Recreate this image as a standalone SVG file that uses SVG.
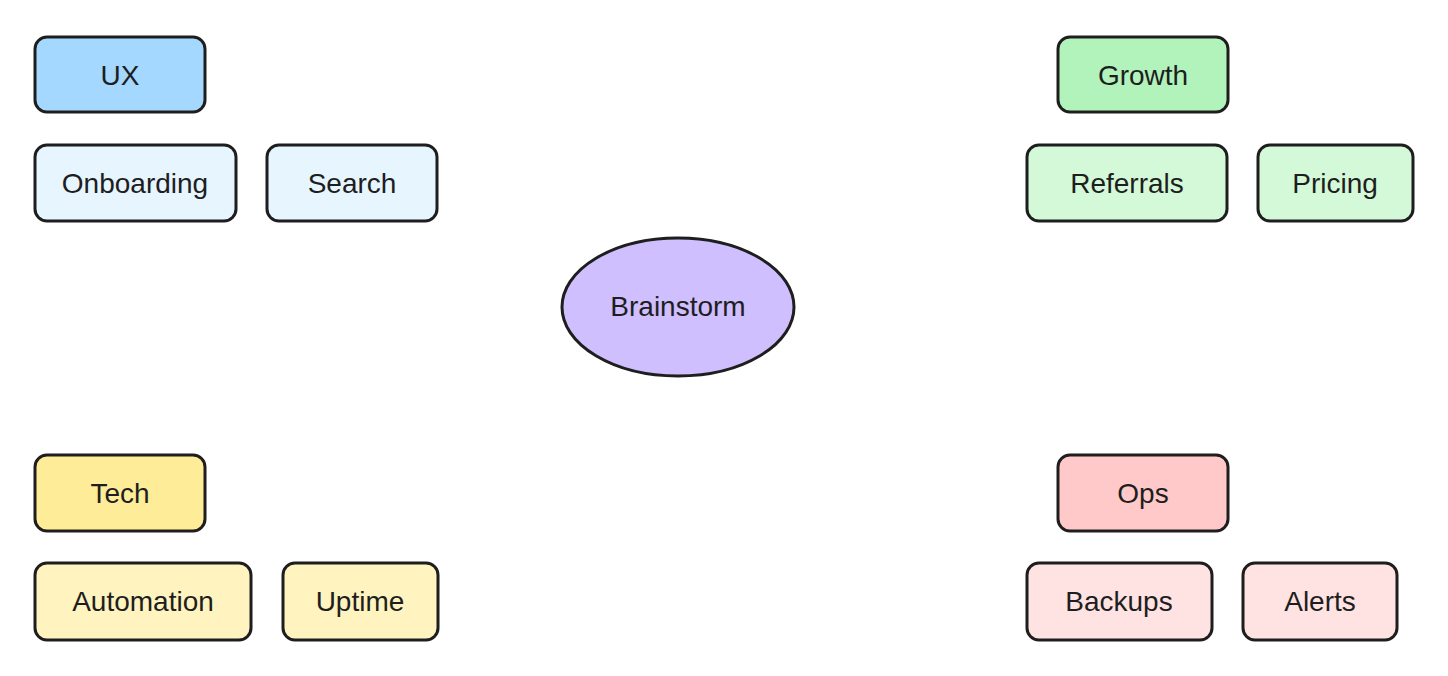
<svg xmlns="http://www.w3.org/2000/svg" width="1448" height="676" viewBox="0 0 1448 676">
<style>
.n{stroke:#1e1e1e;stroke-width:3;stroke-linejoin:round}
.t{font-family:"Liberation Sans",Arial,sans-serif;font-size:28px;fill:#1e1e1e;text-anchor:middle;dominant-baseline:central}
.ux{fill:#a5d8ff}.uxl{fill:#e7f5ff}
.gr{fill:#b2f2bb}.grl{fill:#d3f9d8}
.te{fill:#ffec99}.tel{fill:#fff3bf}
.op{fill:#ffc9c9}.opl{fill:#ffe3e3}
.br{fill:#d0bfff}
</style>
<rect width="1448" height="676" fill="#ffffff"/>
<g id="connectors"></g>
<g id="brainstorm"><ellipse class="n br" cx="678" cy="307" rx="116" ry="69"/><text class="t" x="678" y="306">Brainstorm</text></g>
<g id="ux"><rect class="n ux" x="35" y="37" width="170" height="75" rx="12"/><text class="t" x="120" y="75">UX</text></g>
<g id="onboarding"><rect class="n uxl" x="35" y="145" width="201" height="76" rx="12"/><text class="t" x="135" y="183">Onboarding</text></g>
<g id="search"><rect class="n uxl" x="267" y="145" width="170" height="76" rx="12"/><text class="t" x="352" y="183">Search</text></g>
<g id="growth"><rect class="n gr" x="1058" y="37" width="170" height="75" rx="12"/><text class="t" x="1143" y="75">Growth</text></g>
<g id="referrals"><rect class="n grl" x="1027" y="145" width="200" height="76" rx="12"/><text class="t" x="1127" y="183">Referrals</text></g>
<g id="pricing"><rect class="n grl" x="1258" y="145" width="155" height="76" rx="12"/><text class="t" x="1335" y="183">Pricing</text></g>
<g id="tech"><rect class="n te" x="35" y="455" width="170" height="76" rx="12"/><text class="t" x="120" y="493">Tech</text></g>
<g id="automation"><rect class="n tel" x="35" y="563" width="216" height="77" rx="12"/><text class="t" x="143" y="601">Automation</text></g>
<g id="uptime"><rect class="n tel" x="283" y="563" width="155" height="77" rx="12"/><text class="t" x="360" y="601">Uptime</text></g>
<g id="ops"><rect class="n op" x="1058" y="455" width="170" height="76" rx="12"/><text class="t" x="1143" y="493">Ops</text></g>
<g id="backups"><rect class="n opl" x="1027" y="563" width="185" height="77" rx="12"/><text class="t" x="1119" y="601">Backups</text></g>
<g id="alerts"><rect class="n opl" x="1243" y="563" width="154" height="77" rx="12"/><text class="t" x="1320" y="601">Alerts</text></g>
</svg>
